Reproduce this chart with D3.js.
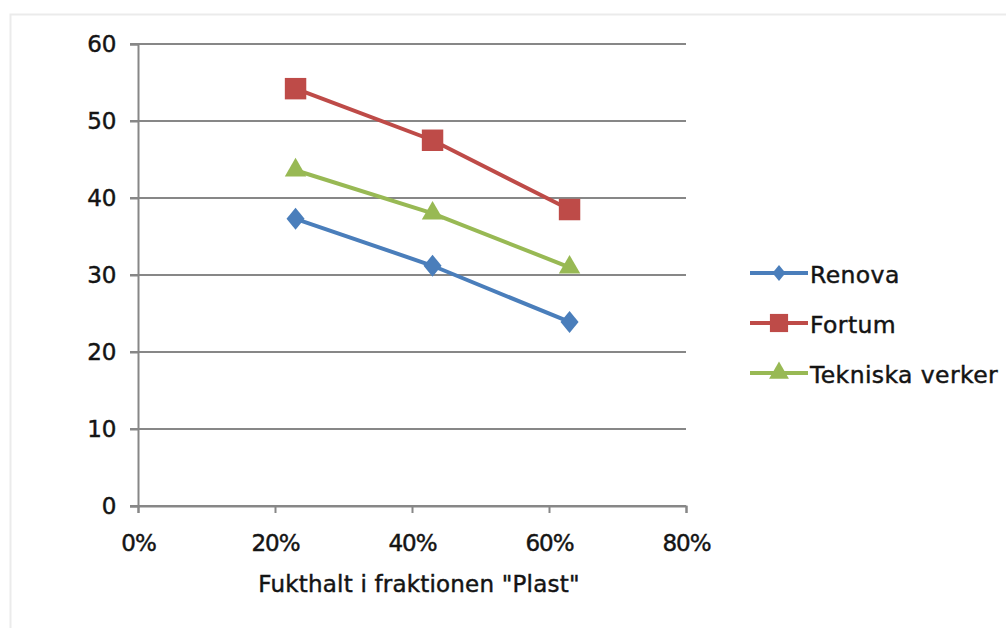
<!DOCTYPE html>
<html><head><meta charset="utf-8">
<script src="https://cdn.jsdelivr.net/npm/d3@7"></script>
<style>
body{margin:0;background:#fff;}
text{font-family:"DejaVu Sans",Verdana,sans-serif;fill:#141414;stroke:#141414;stroke-width:0.45px;}
</style></head><body>
<svg id="c" width="1006" height="628"></svg>
<script>
const xValues = [0.23, 0.43, 0.63];
const renova = [37.3, 31.2, 23.9];
const fortum = [54.2, 47.5, 38.5];
const tekniska = [43.6, 38.0, 31.0];
const seriesNames = ["Renova", "Fortum", "Tekniska verker"];
const xTicks = [0, 0.2, 0.4, 0.6, 0.8];
const yTicks = [0, 10, 20, 30, 40, 50, 60];
const xTitle = 'Fukthalt i fraktionen "Plast"';

// custom diamond (wider than d3's)
const diamond = {draw(ctx, size){
  const h = Math.sqrt(size)/2, w = h*0.82;
  ctx.moveTo(0,-h); ctx.lineTo(w,0); ctx.lineTo(0,h); ctx.lineTo(-w,0); ctx.closePath();
}};

const series = [
  {name: seriesNames[0], values: renova, color: "#4a7ebb", sym: diamond, size: 484, lsize: 256},
  {name: seriesNames[1], values: fortum, color: "#be4b48", sym: d3.symbolSquare, size: 460, lsize: 330},
  {name: seriesNames[2], values: tekniska, color: "#98b954", sym: d3.symbolTriangle, size: 200, lsize: 170}
];

const svg = d3.select("#c");
svg.append("rect").attr("x",10.5).attr("y",14.5).attr("width",1000).attr("height",620)
  .attr("fill","none").attr("stroke","#ebebeb").attr("stroke-width",2);

const x = d3.scaleLinear().domain([0,0.8]).range([138,686]);
const y = d3.scaleLinear().domain([0,60]).range([506,44]);
const axisColor = "#878787";

// gridlines
svg.append("g").selectAll("line").data(yTicks).join("line")
  .attr("x1",130).attr("x2",686).attr("y1",d=>y(d)).attr("y2",d=>y(d))
  .attr("stroke",axisColor).attr("stroke-width",2);

// y axis
const ya = svg.append("g").attr("transform","translate(138,0)")
  .call(d3.axisLeft(y).tickValues(yTicks).tickSize(8).tickPadding(14));
ya.select(".domain").attr("stroke",axisColor).attr("stroke-width",2);
ya.selectAll(".tick line").attr("stroke",axisColor).attr("stroke-width",2);
ya.selectAll("text").style("font-size","23px").style("font-family","DejaVu Sans").attr("fill","#141414").attr("letter-spacing","-0.3px");

// x axis
const xa = svg.append("g").attr("transform","translate(0,506)")
  .call(d3.axisBottom(x).tickValues(xTicks).tickFormat(d3.format(".0%")).tickSize(7).tickPadding(22));
xa.select(".domain").attr("stroke",axisColor).attr("stroke-width",2);
xa.selectAll(".tick line").attr("stroke",axisColor).attr("stroke-width",2);
xa.selectAll("text").style("font-size","23px").style("font-family","DejaVu Sans").attr("fill","#141414").attr("letter-spacing","-1px");

svg.append("text").attr("x",419).attr("y",592).attr("text-anchor","middle")
  .style("font-size","23px").attr("letter-spacing","0.2px").text(xTitle);

const line = d3.line().x((d,i)=>x(xValues[i])).y(d=>y(d));
series.forEach(s=>{
  svg.append("path").datum(s.values).attr("d",line)
    .attr("fill","none").attr("stroke",s.color).attr("stroke-width",4);
  svg.append("g").selectAll("path").data(s.values).join("path")
    .attr("transform",(d,i)=>`translate(${x(xValues[i])},${y(d)})`)
    .attr("d",d3.symbol().type(s.sym).size(s.size)).attr("fill",s.color);
});

// legend
const lg = svg.append("g");
series.forEach((s,i)=>{
  const ly = 273 + i*50;
  lg.append("line").attr("x1",750).attr("x2",808).attr("y1",ly).attr("y2",ly)
    .attr("stroke",s.color).attr("stroke-width",4);
  lg.append("path").attr("transform",`translate(779,${ly})`)
    .attr("d",d3.symbol().type(s.sym).size(s.lsize)).attr("fill",s.color);
  lg.append("text").attr("x",810).attr("y",ly+10).style("font-size","23.5px")
    .attr("letter-spacing","0.4px").text(s.name);
});
</script></body></html>
